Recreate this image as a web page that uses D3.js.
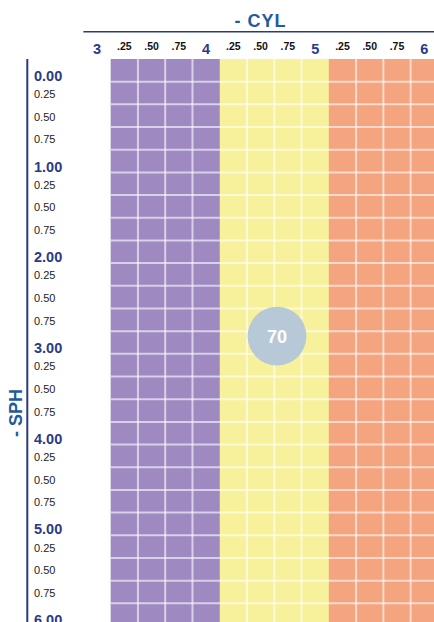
<!DOCTYPE html>
<html>
<head>
<meta charset="utf-8">
<script src="https://cdn.jsdelivr.net/npm/d3@7"></script>
<style>
    body { margin: 0; background: #fff; }
    svg { display: block; font-family: "Liberation Sans", Arial, Helvetica, sans-serif; }
</style>
</head>
<body>
<div id="chart"></div>
<script>
// Data
const cylLabels = ["3", ".25", ".50", ".75", "4", ".25", ".50", ".75", "5", ".25", ".50", ".75", "6"];
const cylValues = [3.00, 3.25, 3.50, 3.75, 4.00, 4.25, 4.50, 4.75, 5.00, 5.25, 5.50, 5.75, 6.00];
const sphValues = [0.00, 0.25, 0.50, 0.75, 1.00, 1.25, 1.50, 1.75, 2.00, 2.25, 2.50, 2.75, 3.00,
    3.25, 3.50, 3.75, 4.00, 4.25, 4.50, 4.75, 5.00, 5.25, 5.50, 5.75, 6.00];
const sphLabels = ["0.00", "0.25", "0.50", "0.75", "1.00", "0.25", "0.50", "0.75", "2.00", "0.25", "0.50", "0.75", "3.00",
    "0.25", "0.50", "0.75", "4.00", "0.25", "0.50", "0.75", "5.00", "0.25", "0.50", "0.75", "6.00"];
const zoneNames = ["low", "mid", "high"];
const zoneMaxCyl = [4.00, 5.00, 6.00];
const marker = { cyl: 4.65, sph: 2.93, label: "70" };

// Layout
const w = 434;
const h = 622;
const p = { left: 83.4, top: 59 };
const colW = 27.27;
const rowH = 22.68;

const svg = d3.select("#chart")
    .append("svg")
    .attr("width", w)
    .attr("height", h);

// Scales
const xScale = d3.scaleBand()
    .domain(cylValues)
    .range([p.left, p.left + cylValues.length * colW]);
const yScale = d3.scaleBand()
    .domain(sphValues)
    .range([p.top, p.top + sphValues.length * rowH]);
const zoneColor = d3.scaleOrdinal()
    .domain(zoneNames)
    .range(["#9e89c1", "#f8f19b", "#f4a47e"]);
const zoneOf = c => zoneNames[zoneMaxCyl.findIndex(m => c <= m + 1e-9)];

// value -> pixel through band centres, for the marker
const cylLin = d3.scaleLinear()
    .domain([cylValues[0], cylValues[cylValues.length - 1]])
    .range([xScale(cylValues[0]) + colW / 2, xScale(cylValues[cylValues.length - 1]) + colW / 2]);
const sphLin = d3.scaleLinear()
    .domain([sphValues[0], sphValues[sphValues.length - 1]])
    .range([yScale(sphValues[0]) + rowH / 2, yScale(sphValues[sphValues.length - 1]) + rowH / 2]);

// Cells
const cellCyl = cylValues.slice(1);
const cells = [];
sphValues.forEach(s => cellCyl.forEach(c => cells.push({ cyl: c, sph: s })));

svg.append("g")
    .selectAll("rect")
    .data(cells)
    .enter()
    .append("rect")
    .attr("x", d => xScale(d.cyl))
    .attr("y", d => yScale(d.sph))
    .attr("width", xScale.bandwidth() + 0.5)
    .attr("height", yScale.bandwidth() + 0.5)
    .style("fill", d => zoneColor(zoneOf(d.cyl)));

// Grid lines (none at zone borders)
const grid = svg.append("g")
    .style("stroke", "#fff")
    .style("stroke-opacity", 0.6)
    .style("stroke-width", 2);
grid.selectAll("line.v")
    .data(cellCyl.slice(1).filter((c, i) => zoneOf(c) === zoneOf(cellCyl[i])))
    .enter()
    .append("line")
    .attr("class", "v")
    .attr("x1", d => xScale(d))
    .attr("x2", d => xScale(d))
    .attr("y1", p.top)
    .attr("y2", h);
grid.selectAll("line.h")
    .data(sphValues.slice(1))
    .enter()
    .append("line")
    .attr("class", "h")
    .attr("x1", xScale(cellCyl[0]))
    .attr("x2", w)
    .attr("y1", d => yScale(d))
    .attr("y2", d => yScale(d));

// Top axis
svg.append("line")
    .attr("x1", p.left)
    .attr("x2", w)
    .attr("y1", 31.7)
    .attr("y2", 31.7)
    .style("stroke", "#2b3a7f")
    .style("stroke-width", 1.6);
svg.append("text")
    .attr("x", 260.5)
    .attr("y", 27)
    .attr("text-anchor", "middle")
    .style("font-size", "18px")
    .style("font-weight", "bold")
    .style("letter-spacing", "1px")
    .style("fill", "#1f5b9c")
    .text("- CYL");
svg.append("g")
    .selectAll("text")
    .data(cylValues)
    .enter()
    .append("text")
    .attr("x", d => xScale(d) + colW / 2)
    .attr("y", (d, i) => cylLabels[i].startsWith(".") ? 50 : 54.3)
    .attr("text-anchor", "middle")
    .style("font-weight", "bold")
    .style("font-size", (d, i) => cylLabels[i].startsWith(".") ? "10.5px" : "14.5px")
    .style("fill", (d, i) => cylLabels[i].startsWith(".") ? "#111" : "#2b3a86")
    .text((d, i) => cylLabels[i]);

// Left axis
svg.append("line")
    .attr("x1", 27.3)
    .attr("x2", 27.3)
    .attr("y1", p.top)
    .attr("y2", h)
    .style("stroke", "#2b3a7f")
    .style("stroke-width", 2);
svg.append("text")
    .attr("transform", "translate(21.5,413) rotate(-90)")
    .attr("text-anchor", "middle")
    .style("font-size", "18px")
    .style("font-weight", "bold")
    .style("fill", "#1f5b9c")
    .text("- SPH");
const isMajor = (d, i) => !sphLabels[i].startsWith("0.") || i === 0;
svg.append("g")
    .selectAll("text")
    .data(sphValues)
    .enter()
    .append("text")
    .attr("x", 34)
    .attr("y", (d, i) => yScale(d) + rowH / 2 + (isMajor(d, i) ? 10.5 : 5))
    .style("font-weight", (d, i) => isMajor(d, i) ? "bold" : "normal")
    .style("font-size", (d, i) => isMajor(d, i) ? "14.5px" : "11px")
    .style("fill", (d, i) => isMajor(d, i) ? "#2b3a86" : "#222")
    .text((d, i) => sphLabels[i]);

// Marker
const mk = svg.append("g")
    .attr("transform", `translate(${cylLin(marker.cyl)},${sphLin(marker.sph)})`);
mk.append("circle")
    .attr("r", 29.4)
    .style("fill", "#b7c9d6");
mk.append("text")
    .attr("text-anchor", "middle")
    .attr("y", 6.5)
    .style("font-size", "18px")
    .style("font-weight", "bold")
    .style("fill", "#fff")
    .text(marker.label);
</script>
</body>
</html>
